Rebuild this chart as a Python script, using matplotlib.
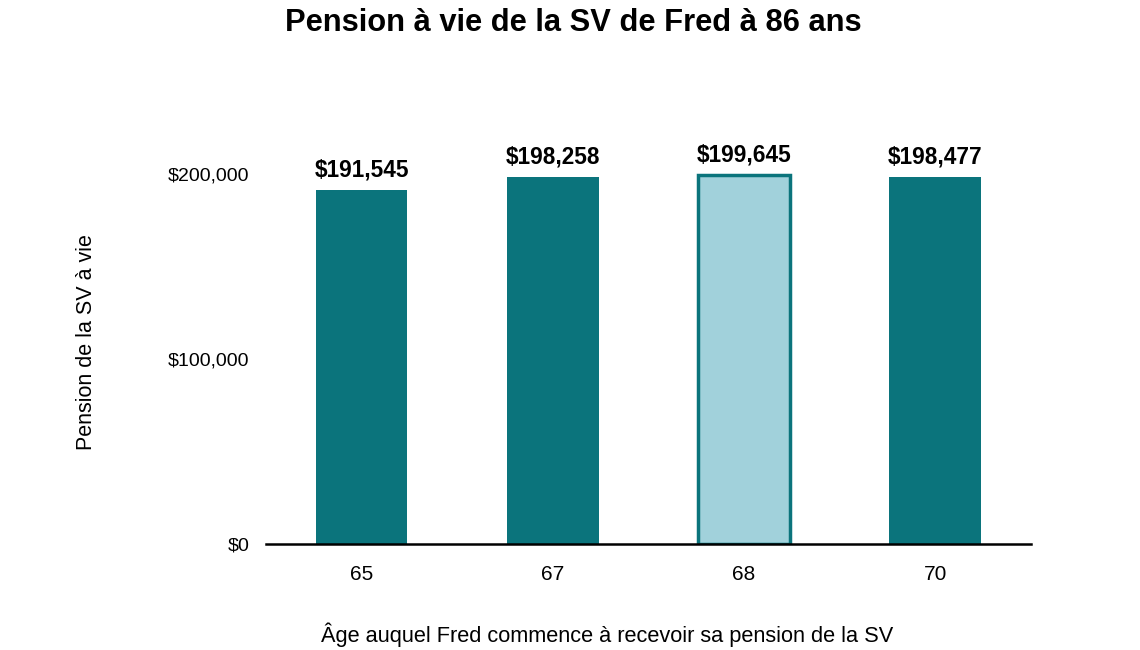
import matplotlib
matplotlib.use("Agg")
import matplotlib.pyplot as plt
from matplotlib.ticker import FuncFormatter

ages = ["65", "67", "68", "70"]
values = [191545, 198258, 199645, 198477]
highlight = [False, False, True, False]
yticks = [0, 100000, 200000]

plt.rcParams['font.family'] = ['Liberation Sans', 'DejaVu Sans']

fig = plt.figure(figsize=(11.4, 6.5), dpi=100)
ax = fig.add_axes([0.2333, 0.1631, 0.6711, 0.683])

dark = "#0B747C"
light = "#A1D1DB"
x = list(range(len(ages)))
colors = [light if h else dark for h in highlight]
bars = ax.bar(x, values, width=0.48, color=colors, edgecolor=dark, linewidth=[2.5 if h else 0 for h in highlight], zorder=2)
for xi, v in zip(x, values):
    ax.text(xi, v + 4500, f"${v:,.0f}", ha="center", va="bottom", fontsize=16.3, fontweight="bold", color="black")

ax.set_xlim(-0.5, 3.5)
ax.set_ylim(0, 240000)
ax.set_xticks(x)
ax.set_xticklabels(ages, fontsize=15)
ax.set_yticks(yticks)
ax.yaxis.set_major_formatter(FuncFormatter(lambda v, p: f"${v:,.0f}"))
ax.tick_params(axis="y", length=0, pad=12, labelsize=14)
ax.tick_params(axis="x", length=0, pad=15)
for s in ["top", "right", "left"]:
    ax.spines[s].set_visible(False)
ax.spines["bottom"].set_linewidth(1.8)
ax.spines["bottom"].set_color("black")
ax.spines["bottom"].set_zorder(3)

fig.text(0.5025, 0.964, "Pension à vie de la SV de Fred à 86 ans", ha="center", va="center", fontsize=22.2, fontweight="bold")
fig.text(0.076, 0.473, "Pension de la SV à vie", rotation=90, ha="center", va="center", fontsize=15.5)
fig.text(0.5325, 0.023, "Âge auquel Fred commence à recevoir sa pension de la SV", ha="center", va="center", fontsize=15.7)

fig.savefig("out.png", dpi=100)
